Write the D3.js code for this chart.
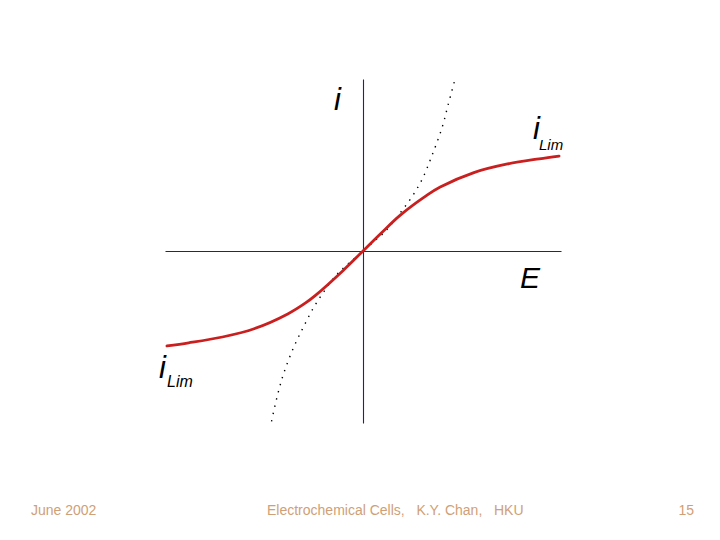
<!DOCTYPE html>
<html lang="en">
<head>
  <meta charset="UTF-8" />
  <title>Current vs potential with limiting current</title>
  <style>
    body { margin: 0; background: #fff; }
    svg { display: block; font-family: 'Liberation Sans', Arial, sans-serif; }
    .axis path { stroke: #232370; stroke-width: 1.1px; }
    .axis line { display: none; }
    .red { fill: none; stroke: #c91f1f; stroke-width: 2.8px; stroke-linecap: round; }
    .dots { fill: none; stroke: #000; stroke-width: 1.4px; stroke-dasharray: 1.4 6; }
    .lbl { font-style: italic; fill: #000; }
    .foot { fill: #cf9f78; font-size: 14px; }
  </style>
</head>
<body>
  <svg width="720" height="540"></svg>

  <script src="https://d3js.org/d3.v7.min.js"></script>
  <script>
    // --- data (E and i in arbitrary units, axes span -1..1)
    const redE = [-0.99, -0.88, -0.71, -0.55, -0.38, -0.29, -0.24, -0.10, 0, 0.09, 0.19, 0.32, 0.39, 0.56, 0.73, 0.89, 0.99];
    const redI = [-0.552, -0.534, -0.50, -0.452, -0.366, -0.302, -0.258, -0.113, 0, 0.102, 0.21, 0.322, 0.372, 0.456, 0.506, 0.536, 0.552];

    const dotE = [-0.462, -0.43, -0.40, -0.35, -0.30, -0.25, -0.20, -0.15, -0.10, -0.05, 0, 0.05, 0.10, 0.15, 0.20, 0.25, 0.30, 0.35, 0.40, 0.43, 0.465];
    const dotI = [-0.99, -0.83, -0.71, -0.56, -0.44, -0.33, -0.24, -0.16, -0.10, -0.05, 0, 0.05, 0.10, 0.165, 0.24, 0.32, 0.42, 0.56, 0.72, 0.85, 1.0];

    const footLeft = "June 2002";
    const footMid = "Electrochemical Cells,   K.Y. Chan,   HKU";
    const footRight = "15";

    // --- scales
    const svg = d3.select("svg");
    const x = d3.scaleLinear().domain([-1, 1]).range([165, 561]);
    const y = d3.scaleLinear().domain([-1, 1]).range([423, 79]);

    // axes through the origin, no ticks
    svg.append("g").attr("class", "axis")
      .attr("transform", `translate(0,${y(0)})`)
      .call(d3.axisBottom(x).ticks(0).tickSizeOuter(0));
    svg.append("g").attr("class", "axis")
      .attr("transform", `translate(${x(0)},0)`)
      .call(d3.axisLeft(y).ticks(0).tickSizeOuter(0));

    const line = d3.line()
      .x(d => x(d[0]))
      .y(d => y(d[1]))
      .curve(d3.curveCatmullRom.alpha(0.5));

    // dotted (no limiting current) curve
    svg.append("path").attr("class", "dots")
      .attr("d", line(dotE.map((e, k) => [e, dotI[k]])));

    // red curve with limiting current
    svg.append("path").attr("class", "red")
      .attr("d", line(redE.map((e, k) => [e, redI[k]])));

    // labels
    svg.append("text").attr("class", "lbl").attr("x", x(0) - 29).attr("y", 110)
      .style("font-size", "31px").text("i");
    svg.append("text").attr("class", "lbl").attr("x", 520).attr("y", 288)
      .style("font-size", "30px").text("E");

    svg.append("text").attr("class", "lbl").attr("x", 533).attr("y", 138.5)
      .style("font-size", "31px").text("i");
    svg.append("text").attr("class", "lbl").attr("x", 539).attr("y", 149.5)
      .style("font-size", "15px").text("Lim");

    svg.append("text").attr("class", "lbl").attr("x", 159).attr("y", 378)
      .style("font-size", "31px").text("i");
    svg.append("text").attr("class", "lbl").attr("x", 167).attr("y", 387)
      .style("font-size", "16px").text("Lim");

    // footer
    svg.append("text").attr("class", "foot").attr("x", 31).attr("y", 515).text(footLeft);
    svg.append("text").attr("class", "foot").attr("x", 267).attr("y", 515)
      .attr("xml:space", "preserve").style("white-space", "pre").text(footMid);
    svg.append("text").attr("class", "foot").attr("x", 694).attr("y", 515)
      .attr("text-anchor", "end").text(footRight);
  </script>
</body>
</html>
